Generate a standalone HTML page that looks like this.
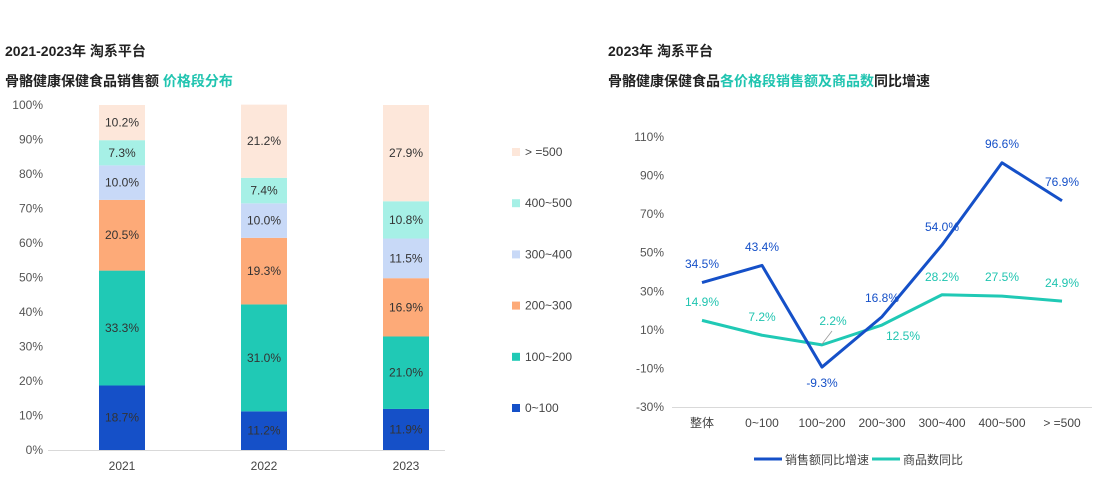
<!DOCTYPE html>
<html><head><meta charset="utf-8"><style>
body{margin:0;background:#fff;width:1113px;height:478px;overflow:hidden}
svg text{font-family:"Liberation Sans","Noto Sans CJK SC",sans-serif}
</style></head><body>
<svg id="s" width="1113" height="478" xmlns="http://www.w3.org/2000/svg">
<text x="5" y="56" font-size="14" font-weight="bold" fill="#222">2021-2023年 淘系平台</text>
<text x="5" y="86" font-size="14" font-weight="bold" fill="#222">骨骼健康保健食品销售额 <tspan fill="#20c4b0">价格段分布</tspan></text>
<text x="608" y="56" font-size="14" font-weight="bold" fill="#222">2023年 淘系平台</text>
<text x="608" y="86" font-size="14" font-weight="bold" fill="#222">骨骼健康保健食品<tspan fill="#20c4b0">各价格段销售额及商品数</tspan>同比增速</text>
<line x1="48" y1="450.5" x2="445" y2="450.5" stroke="#d9d9d9"/>
<line x1="672" y1="407.5" x2="1092" y2="407.5" stroke="#d9d9d9"/>
</svg>
<script>
const s=document.getElementById('s');const NS='http://www.w3.org/2000/svg';
function el(t,a,txt){const e=document.createElementNS(NS,t);for(const k in a)e.setAttribute(k,a[k]);if(txt!=null)e.textContent=txt;s.appendChild(e);return e;}
const cols=['#1550c8','#20c9b5','#fdaa78','#c8d9f7','#a6f0e6','#fde7da'];
const data=[[18.7,33.3,20.5,10.0,7.3,10.2],[11.2,31.0,19.3,10.0,7.4,21.2],[11.9,21.0,16.9,11.5,10.8,27.9]];
const bx=[99,241,383],yrs=['2021','2022','2023'];
const Y=v=>450-v*3.45;
for(let i=0;i<=10;i++)el('text',{x:43,y:Y(i*10)+4,'font-size':12,fill:'#555','text-anchor':'end'},i*10+'%');
data.forEach((d,i)=>{let c=0;d.forEach((v,j)=>{const y1=Y(c),y2=Y(c+v);el('rect',{x:bx[i],y:y2,width:46,height:y1-y2,fill:cols[j]});el('text',{x:bx[i]+23,y:(y1+y2)/2+4,'font-size':12,fill:'#333','text-anchor':'middle'},v.toFixed(1)+'%');c+=v;});
el('text',{x:bx[i]+23,y:470,'font-size':12,fill:'#444','text-anchor':'middle'},yrs[i]);});
const lg=['>=500','400~500','300~400','200~300','100~200','0~100'];
lg.forEach((t,k)=>{const y=152+k*51.2;el('rect',{x:512,y:y-4,width:8,height:8,fill:cols[5-k]});el('text',{x:525,y:y+4,'font-size':12,fill:'#444'},t.replace('>=','> ='));});
// line chart
const LY=v=>407-(v+30)*1.929;
for(let v=-30;v<=110;v+=20)el('text',{x:664,y:LY(v)+4,'font-size':12,fill:'#555','text-anchor':'end'},v+'%');
const cats=['整体','0~100','100~200','200~300','300~400','400~500','> =500'];
const cx=k=>702+k*60;
cats.forEach((c,k)=>el('text',{x:cx(k),y:427,'font-size':12,fill:'#444','text-anchor':'middle'},c));
const b=[34.5,43.4,-9.3,16.8,54.0,96.6,76.9],t=[14.9,7.2,2.2,12.5,28.2,27.5,24.9];
el('polyline',{points:t.map((v,k)=>cx(k)+','+LY(v)).join(' '),fill:'none',stroke:'#20c9b5','stroke-width':3,'stroke-linejoin':'round'});
el('polyline',{points:b.map((v,k)=>cx(k)+','+LY(v)).join(' '),fill:'none',stroke:'#1550c8','stroke-width':3,'stroke-linejoin':'round'});
el('line',{x1:822,y1:344,x2:832,y2:331,stroke:'#999','stroke-width':0.8});
const bl=[[702,264],[762,247],[822,383],[882,298],[942,227],[1002,144],[1062,182]];
const tl=[[702,302],[762,317],[833,321],[903,336],[942,277],[1002,277],[1062,283]];
b.forEach((v,k)=>el('text',{x:bl[k][0],y:bl[k][1]+4,'font-size':12,fill:'#1550c8','text-anchor':'middle'},v.toFixed(1)+'%'));
t.forEach((v,k)=>el('text',{x:tl[k][0],y:tl[k][1]+4,'font-size':12,fill:'#20c4b0','text-anchor':'middle'},v.toFixed(1)+'%'));
el('line',{x1:754,y1:459,x2:782,y2:459,stroke:'#1550c8','stroke-width':3});
el('text',{x:785,y:464,'font-size':12,fill:'#444'},'销售额同比增速');
el('line',{x1:872,y1:459,x2:900,y2:459,stroke:'#20c9b5','stroke-width':3});
el('text',{x:903,y:464,'font-size':12,fill:'#444'},'商品数同比');
</script>
</body></html>
